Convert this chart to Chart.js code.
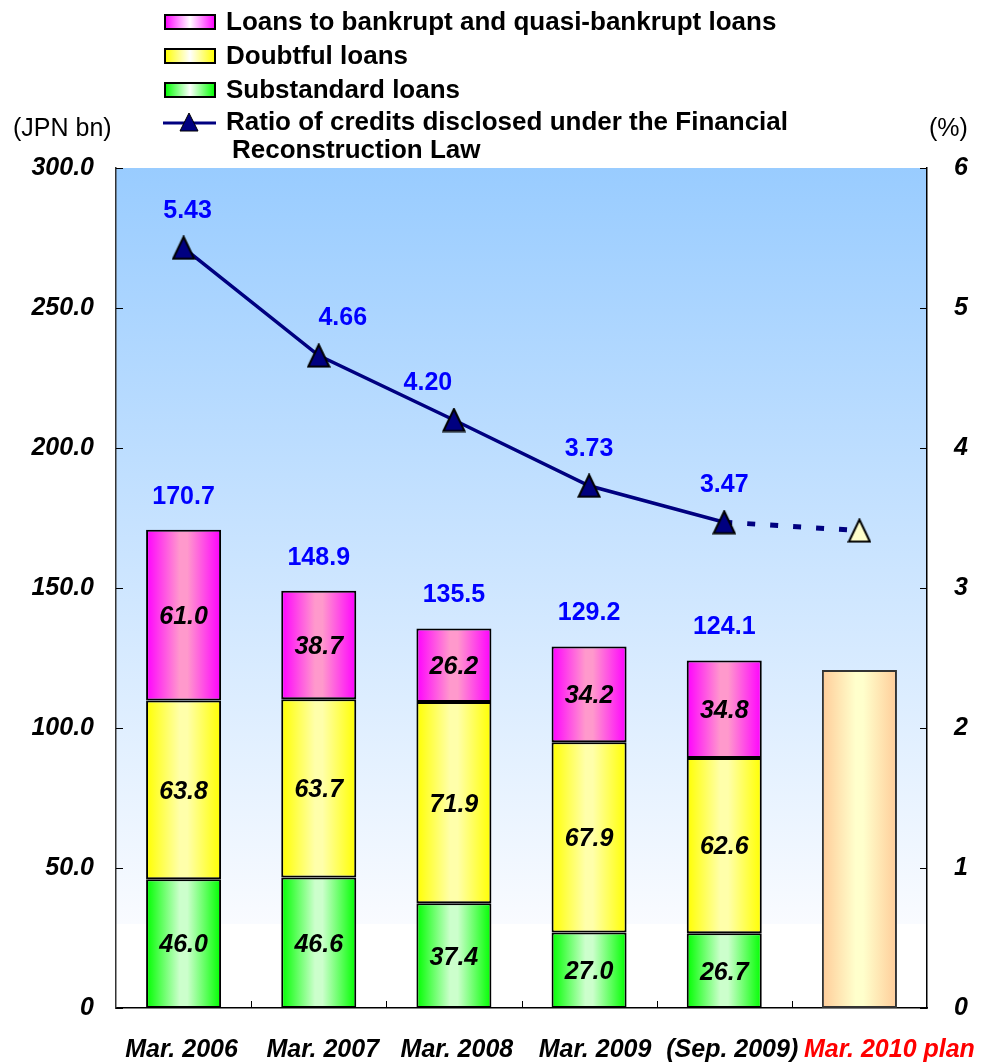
<!DOCTYPE html>
<html>
<head>
<meta charset="utf-8">
<script src="https://cdn.jsdelivr.net/npm/chart.js@4/dist/chart.umd.min.js"></script>
<style>
    html, body { margin: 0; padding: 0; background: #ffffff; }
    #wrap { width: 981px; height: 1064px; position: relative; }
</style>
</head>
<body>
<div id="wrap"><canvas id="loanChart" width="981" height="1064"></canvas></div>
<script>
// Credits disclosed under the Financial Reconstruction Law

const categories = ['Mar. 2006', 'Mar. 2007', 'Mar. 2008', 'Mar. 2009', '(Sep. 2009)', 'Mar. 2010 plan'];
const substandard = [46.0, 46.6, 37.4, 27.0, 26.7, null];
const doubtful = [63.8, 63.7, 71.9, 67.9, 62.6, null];
const bankrupt = [61.0, 38.7, 26.2, 34.2, 34.8, null];
const planTotal = [null, null, null, null, null, 120.7];
const totals = ['170.7', '148.9', '135.5', '129.2', '124.1', null];
const ratio = [5.43, 4.66, 4.20, 3.73, 3.47, 3.41];
const ratioLabels = ['5.43', '4.66', '4.20', '3.73', '3.47', null];
const leftTicks = [0, 50, 100, 150, 200, 250, 300];
const rightTicks = [0, 1, 2, 3, 4, 5, 6];

const FONT = '"Liberation Sans", Arial, sans-serif';
const BAR_PCT = 0.555;

// little horizontal nudges for labels, in px
const ratioShiftX = [4, 24, -26, 0, 0, 0];
const xLabelShiftX = [-2, 4, 3, 6, 8, 30];

// triangle marker, a bit taller than equilateral
function makeTriangle(fill) {
    const c = document.createElement('canvas');
    c.width = 24;
    c.height = 25;
    const t = c.getContext('2d');
    t.beginPath();
    t.moveTo(12, 1.5);
    t.lineTo(22.5, 23.5);
    t.lineTo(1.5, 23.5);
    t.closePath();
    t.fillStyle = fill;
    t.fill();
    t.strokeStyle = '#000000';
    t.lineWidth = 2;
    t.stroke();
    return c;
}
const triDark = makeTriangle('#000080');
const triPlan = makeTriangle('#ffffcc');

function barGradient(ctx, edge, mid) {
    const chart = ctx.chart;
    const xs = chart.scales.x;
    if (!chart.chartArea || !xs) return edge;
    const cx = xs.getPixelForValue(ctx.dataIndex);
    const half = (chart.chartArea.width / categories.length) * BAR_PCT / 2;
    const g = chart.ctx.createLinearGradient(cx - half, 0, cx + half, 0);
    g.addColorStop(0, edge);
    g.addColorStop(0.45, mid);
    g.addColorStop(0.55, mid);
    g.addColorStop(1, edge);
    return g;
}

const backgroundPlugin = {
    id: 'plotBackground',
    beforeDraw(chart) {
        const { ctx, chartArea: a } = chart;
        const fadeEnd = a.top + (a.bottom - a.top) * 0.9;
        const g = ctx.createLinearGradient(0, a.top, 0, fadeEnd);
        g.addColorStop(0, '#99ccff');
        g.addColorStop(1, '#f9fbff');
        ctx.save();
        ctx.fillStyle = g;
        ctx.fillRect(a.left, a.top, a.right - a.left, fadeEnd - a.top);
        ctx.restore();
    }
};

const labelPlugin = {
    id: 'valueLabels',
    afterDatasetsDraw(chart) {
        const { ctx, chartArea: a } = chart;
        const xs = chart.scales.x;
        ctx.save();

        // tick marks pointing inward
        ctx.strokeStyle = '#000000';
        ctx.lineWidth = 1;
        leftTicks.forEach(v => {
            const y = Math.round(chart.scales.y.getPixelForValue(v)) + 0.5;
            ctx.beginPath(); ctx.moveTo(a.left, y); ctx.lineTo(a.left + 7, y); ctx.stroke();
        });
        rightTicks.forEach(v => {
            const y = Math.round(chart.scales.y1.getPixelForValue(v)) + 0.5;
            ctx.beginPath(); ctx.moveTo(a.right, y); ctx.lineTo(a.right - 7, y); ctx.stroke();
        });
        const step = a.width / categories.length;
        for (let i = 1; i < categories.length; i++) {
            const x = Math.round(a.left + step * i) + 0.5;
            ctx.beginPath(); ctx.moveTo(x, a.bottom); ctx.lineTo(x, a.bottom - 7); ctx.stroke();
        }

        // segment values
        ctx.textAlign = 'center';
        ctx.textBaseline = 'middle';
        ctx.fillStyle = '#000000';
        ctx.font = `italic bold 25px ${FONT}`;
        [0, 1, 2].forEach(di => {
            const meta = chart.getDatasetMeta(di);
            meta.data.forEach((bar, i) => {
                const v = chart.data.datasets[di].data[i];
                if (v == null) return;
                ctx.fillText(v.toFixed(1), bar.x, (bar.y + bar.base) / 2 + 2);
            });
        });

        // totals above bars
        ctx.fillStyle = '#0000ff';
        ctx.font = `bold 25px ${FONT}`;
        const topMeta = chart.getDatasetMeta(2);
        topMeta.data.forEach((bar, i) => {
            if (totals[i] == null) return;
            ctx.fillText(totals[i], bar.x, bar.y - 33);
        });

        // ratio values above points
        const lineMeta = chart.getDatasetMeta(4);
        lineMeta.data.forEach((pt, i) => {
            if (ratioLabels[i] == null) return;
            ctx.fillText(ratioLabels[i], pt.x + ratioShiftX[i], pt.y - 37);
        });

        // category labels
        ctx.font = `italic bold 25px ${FONT}`;
        categories.forEach((c, i) => {
            ctx.fillStyle = i === categories.length - 1 ? '#ff0000' : '#000000';
            ctx.fillText(c, xs.getPixelForValue(i) + xLabelShiftX[i], a.bottom + 42);
        });

        // axis unit titles
        ctx.fillStyle = '#000000';
        ctx.font = `25px ${FONT}`;
        ctx.textAlign = 'left';
        ctx.fillText('(JPN bn)', 13, 129);
        ctx.fillText('(%)', 929, 129);
        ctx.restore();
    }
};

const legendPlugin = {
    id: 'stackLegend',
    afterDraw(chart) {
        const ctx = chart.ctx;
        const items = [
            { text: 'Loans to bankrupt and quasi-bankrupt loans', edge: '#ff00ff', y: 22 },
            { text: 'Doubtful loans', edge: '#ffff00', y: 56 },
            { text: 'Substandard loans', edge: '#00ff00', y: 90 }
        ];
        ctx.save();
        ctx.font = `bold 26px ${FONT}`;
        ctx.textBaseline = 'middle';
        ctx.textAlign = 'left';
        items.forEach(it => {
            const g = ctx.createLinearGradient(165, 0, 215, 0);
            g.addColorStop(0, it.edge);
            g.addColorStop(0.5, '#ffffff');
            g.addColorStop(1, it.edge);
            ctx.fillStyle = g;
            ctx.fillRect(165, it.y - 7, 50, 14);
            ctx.strokeStyle = '#000000';
            ctx.lineWidth = 2;
            ctx.strokeRect(165, it.y - 7, 50, 14);
            ctx.fillStyle = '#000000';
            ctx.fillText(it.text, 226, it.y + 1);
        });

        // line entry
        const ly = 123;
        ctx.strokeStyle = '#000080';
        ctx.lineWidth = 3;
        ctx.beginPath(); ctx.moveTo(163, ly); ctx.lineTo(216, ly); ctx.stroke();
        ctx.beginPath();
        ctx.moveTo(189, ly - 10); ctx.lineTo(198, ly + 8); ctx.lineTo(180, ly + 8); ctx.closePath();
        ctx.fillStyle = '#000080';
        ctx.fill();
        ctx.strokeStyle = '#000000';
        ctx.lineWidth = 1;
        ctx.stroke();
        ctx.fillStyle = '#000000';
        ctx.fillText('Ratio of credits disclosed under the Financial', 226, ly);
        ctx.fillText('Reconstruction Law', 232, ly + 28);
        ctx.restore();
    }
};

const barCommon = {
    type: 'bar',
    yAxisID: 'y',
    stack: 'loans',
    borderColor: '#000000',
    borderWidth: 2,
    borderSkipped: false,
    categoryPercentage: 1,
    barPercentage: BAR_PCT,
    order: 2
};

new Chart(document.getElementById('loanChart'), {
    data: {
        labels: categories,
        datasets: [
            { ...barCommon, label: 'Substandard loans', data: substandard,
              backgroundColor: c => barGradient(c, '#00ff00', '#ccffcc') },
            { ...barCommon, label: 'Doubtful loans', data: doubtful,
              backgroundColor: c => barGradient(c, '#ffff00', '#ffffaa') },
            { ...barCommon, label: 'Loans to bankrupt and quasi-bankrupt loans', data: bankrupt,
              backgroundColor: c => barGradient(c, '#ff00ff', '#ff99cc') },
            { ...barCommon, label: 'Plan', data: planTotal, borderColor: '#333333', borderWidth: 2,
              backgroundColor: c => barGradient(c, '#ffcc99', '#ffffcc') },
            {
                type: 'line',
                label: 'Ratio of credits disclosed under the Financial Reconstruction Law',
                data: ratio,
                yAxisID: 'y1',
                order: 0,
                borderColor: '#000080',
                borderWidth: 3.5,
                tension: 0,
                pointStyle: ratio.map((_, i) => i === ratio.length - 1 ? triPlan : triDark),
                pointRadius: 12,
                pointHoverRadius: 12,
                segment: {
                    borderDash: s => s.p1DataIndex === ratio.length - 1 ? [8, 15] : undefined,
                    borderWidth: s => s.p1DataIndex === ratio.length - 1 ? 5 : 3.5
                }
            }
        ]
    },
    options: {
        responsive: false,
        animation: false,
        layout: { padding: { top: 168, left: 0, right: 0, bottom: 0 } },
        plugins: {
            legend: { display: false },
            tooltip: { enabled: false }
        },
        scales: {
            x: {
                stacked: true,
                grid: { display: false, drawTicks: false },
                border: { display: true, color: '#000000', width: 1.5 },
                ticks: { display: false },
                afterFit: s => { s.height = 56; }
            },
            y: {
                stacked: true,
                position: 'left',
                min: 0,
                max: 300,
                grid: { display: false, drawTicks: false },
                border: { display: true, color: '#333333', width: 1.5 },
                ticks: {
                    stepSize: 50,
                    padding: 22,
                    color: '#000000',
                    font: { family: FONT, size: 25, style: 'italic', weight: 'bold' },
                    callback: v => v === 0 ? '0' : v.toFixed(1)
                },
                afterFit: s => { s.width = 116; }
            },
            y1: {
                position: 'right',
                min: 0,
                max: 6,
                grid: { display: false, drawTicks: false },
                border: { display: true, color: '#000000', width: 1.5 },
                ticks: {
                    stepSize: 1,
                    padding: 27,
                    color: '#000000',
                    font: { family: FONT, size: 25, style: 'italic', weight: 'bold' }
                },
                afterFit: s => { s.width = 54; }
            }
        }
    },
    plugins: [backgroundPlugin, labelPlugin, legendPlugin]
});
</script>
</body>
</html>
